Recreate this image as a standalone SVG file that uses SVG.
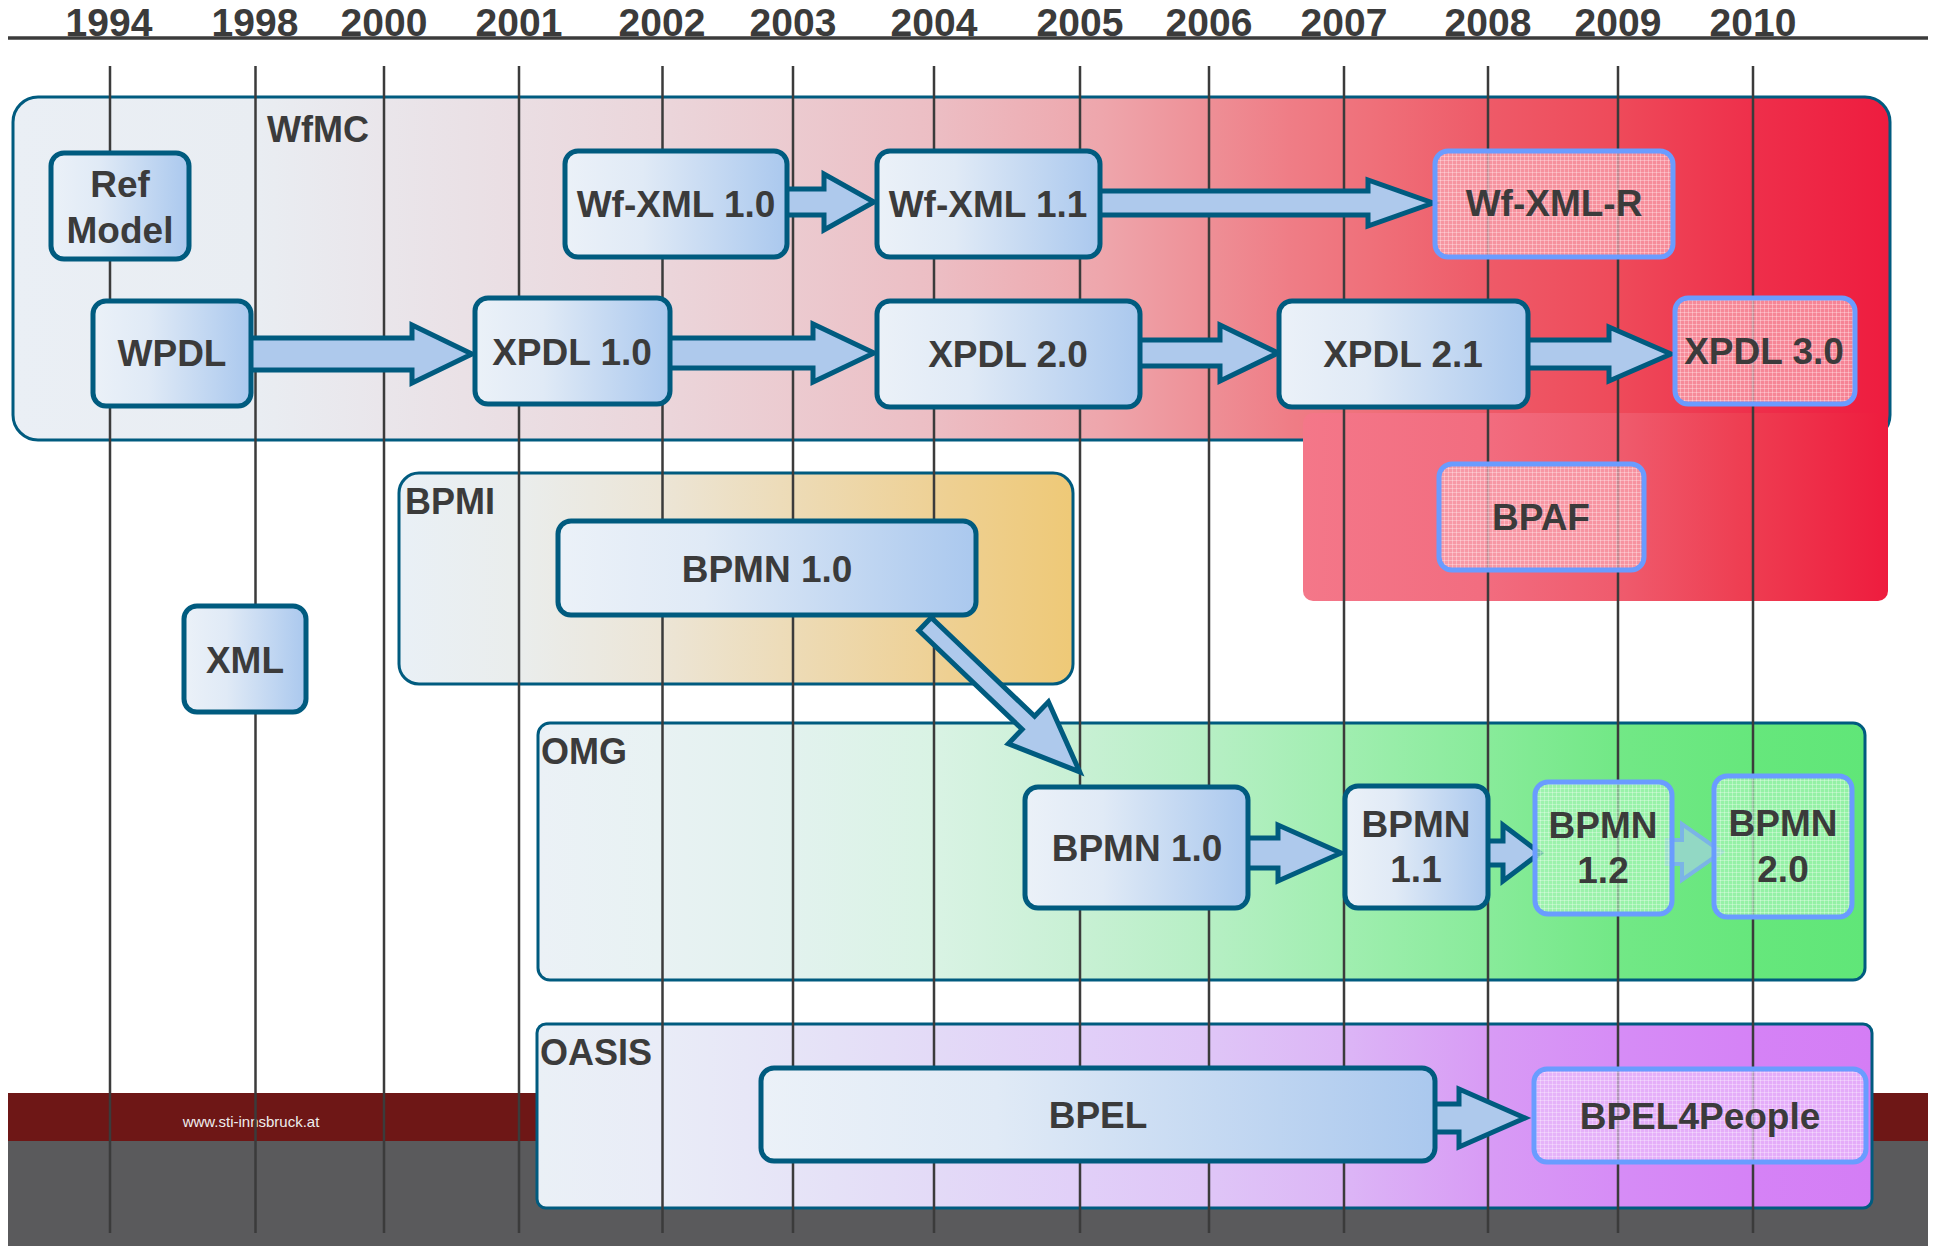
<svg xmlns="http://www.w3.org/2000/svg" width="1937" height="1246" viewBox="0 0 1937 1246">
<style>
text{font-family:"Liberation Sans",Arial,sans-serif;font-weight:bold;fill:#3b3b3b}
.yr{font-size:39px;text-anchor:middle}
.gl{font-size:36px}
.nt{font-size:37px;text-anchor:middle}
.grid line{stroke:#3b3b3b;stroke-width:2.5}
.node{fill:url(#nodeGrad);stroke:#005b7f;stroke-width:5}
.hn{stroke:#6a9cff;stroke-width:5}
.arr{fill:#aec9ec;stroke:#005b7f;stroke-width:5;stroke-linejoin:miter}
.grp{stroke:#005b7f;stroke-width:3}
</style>
<defs>
<linearGradient id="nodeGrad" x1="0" y1="0" x2="1" y2="0">
<stop offset="0" stop-color="#ebf1f8"/><stop offset="0.35" stop-color="#e0eaf6"/><stop offset="1" stop-color="#aac8ee"/>
</linearGradient>
<linearGradient id="wfmcGrad" gradientUnits="userSpaceOnUse" x1="13" y1="0" x2="1890" y2="0">
<stop offset="0" stop-color="#eaeff5"/><stop offset="0.13" stop-color="#e9edf2"/><stop offset="0.35" stop-color="#ebd5da"/><stop offset="0.49" stop-color="#ecbec4"/><stop offset="0.58" stop-color="#eea6ac"/><stop offset="0.637" stop-color="#ee8f96"/><stop offset="0.68" stop-color="#ef7d86"/><stop offset="0.73" stop-color="#ef6e78"/><stop offset="0.786" stop-color="#ee5a68"/><stop offset="0.855" stop-color="#ee4a5a"/><stop offset="0.93" stop-color="#ee2e4a"/><stop offset="1" stop-color="#ee1c3f"/>
</linearGradient>
<linearGradient id="bpafGrad" gradientUnits="userSpaceOnUse" x1="1303" y1="0" x2="1888" y2="0">
<stop offset="0" stop-color="#f47789"/><stop offset="0.3" stop-color="#f26d80"/><stop offset="0.55" stop-color="#ef5a6c"/><stop offset="0.75" stop-color="#ee3e52"/><stop offset="1" stop-color="#ee1c3e"/>
</linearGradient>
<linearGradient id="bpmiGrad" gradientUnits="userSpaceOnUse" x1="399" y1="0" x2="1073" y2="0">
<stop offset="0" stop-color="#e9f0f6"/><stop offset="0.18" stop-color="#eaedec"/><stop offset="0.39" stop-color="#ece5d6"/><stop offset="0.585" stop-color="#eddbb6"/><stop offset="0.79" stop-color="#eed196"/><stop offset="1" stop-color="#eec977"/>
</linearGradient>
<linearGradient id="omgGrad" gradientUnits="userSpaceOnUse" x1="538" y1="0" x2="1865" y2="0">
<stop offset="0" stop-color="#ebf1f6"/><stop offset="0.093" stop-color="#e8f2f3"/><stop offset="0.192" stop-color="#e2f2ee"/><stop offset="0.298" stop-color="#d9f3e4"/><stop offset="0.408" stop-color="#c8f0d4"/><stop offset="0.506" stop-color="#b6efc4"/><stop offset="0.607" stop-color="#a0eeb0"/><stop offset="0.716" stop-color="#88eb9a"/><stop offset="0.814" stop-color="#72e886"/><stop offset="0.916" stop-color="#66e77c"/><stop offset="1" stop-color="#60e678"/>
</linearGradient>
<linearGradient id="oasisGrad" gradientUnits="userSpaceOnUse" x1="537" y1="0" x2="1873" y2="0">
<stop offset="0" stop-color="#eaf0f6"/><stop offset="0.093" stop-color="#e9ecf7"/><stop offset="0.192" stop-color="#e6e4f7"/><stop offset="0.298" stop-color="#e3daf7"/><stop offset="0.408" stop-color="#e1cff8"/><stop offset="0.505" stop-color="#dfc5f7"/><stop offset="0.606" stop-color="#dcb5f6"/><stop offset="0.712" stop-color="#d89bf5"/><stop offset="0.81" stop-color="#d68cf6"/><stop offset="0.91" stop-color="#d582f6"/><stop offset="1" stop-color="#d47df5"/>
</linearGradient>
<pattern id="hatchPink" width="4" height="4" patternUnits="userSpaceOnUse">
<rect width="4" height="4" fill="#faaab5" fill-opacity="0.72"/>
<path d="M0,0.5H4M0.5,0V4" stroke="#ffffff" stroke-opacity="0.3" stroke-width="1"/>
</pattern>
<pattern id="hatchGreen" width="4" height="4" patternUnits="userSpaceOnUse">
<rect width="4" height="4" fill="#aaf5ba" fill-opacity="0.68"/>
<path d="M0,0.5H4M0.5,0V4" stroke="#ffffff" stroke-opacity="0.3" stroke-width="1"/>
</pattern>
<pattern id="hatchPurple" width="4" height="4" patternUnits="userSpaceOnUse">
<rect width="4" height="4" fill="#ecc0fa" fill-opacity="0.68"/>
<path d="M0,0.5H4M0.5,0V4" stroke="#ffffff" stroke-opacity="0.3" stroke-width="1"/>
</pattern>
</defs>

<rect width="1937" height="1246" fill="#ffffff"/>

<g id="footer">
<rect x="8" y="1093" width="1920" height="48" fill="#6e1716"/>
<rect x="8" y="1141" width="1920" height="105" fill="#5a5a5c"/>
<text x="251" y="1127" style="font-weight:normal;font-size:15px;fill:#eeeeee;text-anchor:middle">www.sti-innsbruck.at</text>
</g>

<g id="groups">
<g id="group-wfmc">
<rect class="grp" x="13" y="97" width="1877" height="343" rx="25" fill="url(#wfmcGrad)"/>
<rect x="1303" y="413" width="585" height="188" rx="10" fill="url(#bpafGrad)"/>
<text class="gl" x="267" y="142">WfMC</text>
</g>
<g id="group-bpmi">
<rect class="grp" x="399" y="473" width="674" height="211" rx="20" fill="url(#bpmiGrad)"/>
<text class="gl" x="405" y="514">BPMI</text>
</g>
<g id="group-omg">
<rect class="grp" x="538" y="723" width="1327" height="257" rx="12" fill="url(#omgGrad)"/>
<text class="gl" x="541" y="764">OMG</text>
</g>
<g id="group-oasis">
<rect class="grp" x="537" y="1024" width="1335" height="184" rx="9" fill="url(#oasisGrad)"/>
<text class="gl" x="540" y="1065">OASIS</text>
</g>
</g>

<g id="timeline">
<line x1="8" y1="38" x2="1928" y2="38" stroke="#3b3b3b" stroke-width="3.5"/>
<text class="yr" x="109" y="36">1994</text>
<text class="yr" x="255" y="36">1998</text>
<text class="yr" x="384" y="36">2000</text>
<text class="yr" x="519" y="36">2001</text>
<text class="yr" x="662" y="36">2002</text>
<text class="yr" x="793" y="36">2003</text>
<text class="yr" x="934" y="36">2004</text>
<text class="yr" x="1080" y="36">2005</text>
<text class="yr" x="1209" y="36">2006</text>
<text class="yr" x="1344" y="36">2007</text>
<text class="yr" x="1488" y="36">2008</text>
<text class="yr" x="1618" y="36">2009</text>
<text class="yr" x="1753" y="36">2010</text>
<g class="grid">
<line x1="110" y1="66" x2="110" y2="1233"/>
<line x1="255.5" y1="66" x2="255.5" y2="1233"/>
<line x1="384" y1="66" x2="384" y2="1233"/>
<line x1="519" y1="66" x2="519" y2="1233"/>
<line x1="662.5" y1="66" x2="662.5" y2="1233"/>
<line x1="793" y1="66" x2="793" y2="1233"/>
<line x1="934" y1="66" x2="934" y2="1233"/>
<line x1="1080" y1="66" x2="1080" y2="1233"/>
<line x1="1209" y1="66" x2="1209" y2="1233"/>
<line x1="1344" y1="66" x2="1344" y2="1233"/>
<line x1="1488" y1="66" x2="1488" y2="1233"/>
<line x1="1618" y1="66" x2="1618" y2="1233"/>
<line x1="1753" y1="66" x2="1753" y2="1233"/>
</g>
</g>

<g id="connectors">
<path class="arr" d="M245,338 L412,338 L412,325 L472,354 L412,383 L412,370 L245,370 Z"/>
<path class="arr" d="M665,338 L813,338 L813,324 L874,353 L813,382 L813,368 L665,368 Z"/>
<path class="arr" d="M782,189 L824,189 L824,174 L874,202 L824,230 L824,215 L782,215 Z"/>
<path class="arr" d="M1095,191 L1368,191 L1368,180 L1433,203 L1368,226 L1368,215 L1095,215 Z"/>
<path class="arr" d="M1135,340 L1220,340 L1220,325 L1278,353 L1220,381 L1220,366 L1135,366 Z"/>
<path class="arr" d="M1522,340 L1609,340 L1609,327 L1671,354 L1609,381 L1609,368 L1522,368 Z"/>
<path class="arr" transform="translate(925,624) rotate(43.7)" d="M0,-9 L143,-9 L143,-29 L214,0 L143,29 L143,9 L0,9 Z"/>
<path class="arr" d="M1243,838 L1278,838 L1278,825 L1341,853 L1278,881 L1278,868 L1243,868 Z"/>
<path class="arr" d="M1484,841 L1503,841 L1503,825 L1540,853 L1503,881 L1503,865 L1484,865 Z"/>
<path d="M1667,840 L1682,840 L1682,824 L1722,852 L1682,880 L1682,864 L1667,864 Z" fill="#92d8c4" stroke="#7bb4e6" stroke-width="4"/>
<path class="arr" d="M1430,1104 L1459,1104 L1459,1089 L1525,1118 L1459,1147 L1459,1132 L1430,1132 Z"/>
</g>

<g id="node-refmodel">
<rect class="node" x="51" y="153" width="138" height="106" rx="13"/>
<text class="nt" x="120" y="197">Ref</text>
<text class="nt" x="120" y="243">Model</text>
</g>
<g id="node-wpdl">
<rect class="node" x="93" y="301" width="158" height="105" rx="13"/>
<text class="nt" x="172" y="366">WPDL</text>
</g>
<g id="node-xpdl10">
<rect class="node" x="475" y="298" width="195" height="106" rx="13"/>
<text class="nt" x="572" y="365">XPDL 1.0</text>
</g>
<g id="node-wfxml10">
<rect class="node" x="565" y="151" width="222" height="106" rx="13"/>
<text class="nt" x="676" y="217">Wf-XML 1.0</text>
</g>
<g id="node-wfxml11">
<rect class="node" x="877" y="151" width="223" height="106" rx="13"/>
<text class="nt" x="988" y="217">Wf-XML 1.1</text>
</g>
<g id="node-wfxmlr">
<rect class="hn" x="1435" y="151" width="238" height="106" rx="13" fill="url(#hatchPink)"/>
<text class="nt" x="1554" y="216">Wf-XML-R</text>
</g>
<g id="node-xpdl20">
<rect class="node" x="877" y="301" width="263" height="106" rx="13"/>
<text class="nt" x="1008" y="367">XPDL 2.0</text>
</g>
<g id="node-xpdl21">
<rect class="node" x="1279" y="301" width="249" height="106" rx="13"/>
<text class="nt" x="1403" y="367">XPDL 2.1</text>
</g>
<g id="node-xpdl30">
<rect class="hn" x="1675" y="298" width="180" height="106" rx="13" fill="url(#hatchPink)"/>
<text class="nt" x="1764" y="364">XPDL 3.0</text>
</g>
<g id="node-bpaf">
<rect class="hn" x="1439" y="464" width="205" height="106" rx="13" fill="url(#hatchPink)"/>
<text class="nt" x="1541" y="530">BPAF</text>
</g>
<g id="node-bpmn10-bpmi">
<rect class="node" x="558" y="521" width="418" height="94" rx="13"/>
<text class="nt" x="767" y="582">BPMN 1.0</text>
</g>
<g id="node-xml">
<rect class="node" x="184" y="606" width="122" height="106" rx="13"/>
<text class="nt" x="245" y="673">XML</text>
</g>
<g id="node-bpmn10-omg">
<rect class="node" x="1025" y="787" width="223" height="121" rx="13"/>
<text class="nt" x="1137" y="861">BPMN 1.0</text>
</g>
<g id="node-bpmn11">
<rect class="node" x="1345" y="786" width="143" height="122" rx="13"/>
<text class="nt" x="1416" y="837">BPMN</text>
<text class="nt" x="1416" y="882">1.1</text>
</g>
<g id="node-bpmn12">
<rect class="hn" x="1535" y="782" width="137" height="132" rx="13" fill="url(#hatchGreen)"/>
<text class="nt" x="1603" y="838">BPMN</text>
<text class="nt" x="1603" y="883">1.2</text>
</g>
<g id="node-bpmn20">
<rect class="hn" x="1714" y="776" width="138" height="141" rx="13" fill="url(#hatchGreen)"/>
<text class="nt" x="1783" y="836">BPMN</text>
<text class="nt" x="1783" y="882">2.0</text>
</g>
<g id="node-bpel">
<rect class="node" x="761" y="1068" width="674" height="93" rx="13"/>
<text class="nt" x="1098" y="1128">BPEL</text>
</g>
<g id="node-bpel4people">
<rect class="hn" x="1534" y="1069" width="332" height="93" rx="13" fill="url(#hatchPurple)"/>
<text class="nt" x="1700" y="1129">BPEL4People</text>
</g>
</svg>
